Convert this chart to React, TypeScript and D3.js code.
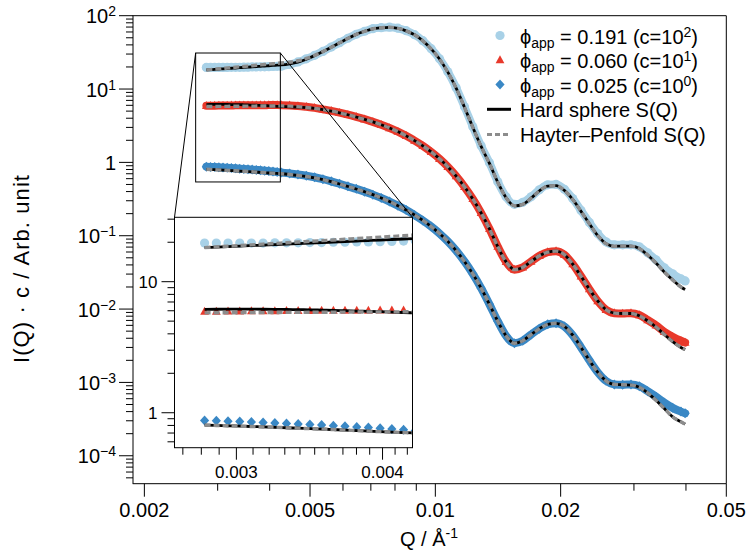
import React from "react";
import * as d3 from "d3";

// ---------------- data ----------------
const Q = [
  0.002818, 0.002884, 0.002951, 0.00302, 0.00309, 0.003162, 0.003236, 0.003311, 0.003388, 0.003467,
  0.003548, 0.003631, 0.003715, 0.003802, 0.00389, 0.003981, 0.004074, 0.004169, 0.004266,
  0.004467, 0.004677, 0.004898, 0.005129, 0.00537, 0.005623, 0.005888, 0.006166, 0.006457, 0.006761,
  0.007079, 0.007413, 0.007762, 0.008128, 0.008511, 0.008913, 0.009333, 0.009772, 0.010233, 0.010715,
  0.01122, 0.011749, 0.012303, 0.012882, 0.01349, 0.014125, 0.014791, 0.015488, 0.016218, 0.016982,
  0.017783, 0.018621, 0.019498, 0.020417, 0.02138, 0.022387, 0.023442, 0.024547, 0.025704, 0.026915,
  0.028184, 0.029512, 0.030903, 0.032359, 0.033884, 0.035481, 0.037154, 0.038905, 0.039811,
];

// measured I(Q)*c
const I_191 = [
  19.7, 19.7, 19.7, 19.7, 19.7, 19.7, 19.8, 19.8, 19.8, 19.9, 19.9, 20.0, 20.0, 20.1, 20.1, 20.2, 20.3, 20.4, 20.5,
  21.6, 23.4, 25.8, 28.8, 32.6, 37.4, 42.9, 49.3, 55.9, 61.4,
  66.5, 68.6, 69.7, 67.5, 62.4, 55.1, 45.6, 35.5, 25.9, 17.2,
  10.4, 5.73, 3.06, 1.68, 0.99, 0.544, 0.339, 0.268, 0.285, 0.339,
  0.423, 0.495, 0.5, 0.43, 0.322, 0.221, 0.152, 0.107, 0.0826, 0.0751,
  0.0751, 0.0751, 0.0706, 0.0584, 0.0469, 0.0365, 0.0302, 0.0258, 0.0242,
];
const I_060 = [
  5.92, 5.93, 5.94, 5.95, 5.96, 5.97, 5.98, 5.99, 6.0, 6.0, 6.01, 6.02, 6.02, 6.03, 6.03, 6.04, 6.04, 6.04, 6.03,
  5.98, 5.88, 5.72, 5.54, 5.29, 5.04, 4.76, 4.47, 4.17, 3.88,
  3.57, 3.26, 2.95, 2.63, 2.3, 1.98, 1.68, 1.39, 1.12, 0.87,
  0.65, 0.465, 0.318, 0.205, 0.124, 0.071, 0.044, 0.0345, 0.037, 0.0445,
  0.0532, 0.0597, 0.0616, 0.0551, 0.0411, 0.028, 0.0187, 0.0129, 0.0098, 0.0088,
  0.0087, 0.0088, 0.0083, 0.0071, 0.006, 0.0049, 0.0042, 0.0037, 0.0035,
];
const I_025 = [
  0.874, 0.868, 0.862, 0.856, 0.849, 0.843, 0.836, 0.829, 0.821, 0.813, 0.805, 0.797, 0.788, 0.779, 0.77, 0.761, 0.751, 0.74, 0.73,
  0.707, 0.683, 0.658, 0.627, 0.591, 0.551, 0.511, 0.4715, 0.4358, 0.3993,
  0.3634, 0.3276, 0.292, 0.2573, 0.2241, 0.1916, 0.1616, 0.1335, 0.1075, 0.0838,
  0.0627, 0.0446, 0.0302, 0.0193, 0.0116, 0.00683, 0.00431, 0.00342, 0.0037, 0.0045,
  0.0054, 0.0062, 0.0064, 0.0058, 0.0044, 0.003, 0.002, 0.00138, 0.00105, 0.00094,
  0.00093, 0.00094, 0.00089, 0.00076, 0.00064, 0.00053, 0.00045, 0.0004, 0.00038,
];

// model curves
const HS_191 = [
  18.2, 18.36, 18.53, 18.69, 18.86, 19.03, 19.2, 19.37, 19.54, 19.71, 19.89, 20.07, 20.25, 20.43, 20.61, 20.79, 20.98, 21.17, 21.36,
  22.1, 23.3, 25.5, 28.6, 32.4, 37.2, 42.7, 49.1, 55.7, 61.2,
  66.3, 68.4, 69.5, 67.3, 62.2, 54.9, 45.4, 35.3, 25.7, 17.0,
  10.3, 5.65, 3.01, 1.65, 0.97, 0.535, 0.33, 0.256, 0.268, 0.325,
  0.41, 0.475, 0.482, 0.415, 0.312, 0.215, 0.146, 0.101, 0.078, 0.0718,
  0.0722, 0.0722, 0.0672, 0.0545, 0.0425, 0.032, 0.025, 0.02, 0.0185,
];
const HP_191 = [
  18.2, 18.42, 18.65, 18.88, 19.11, 19.35, 19.59, 19.83, 20.07, 20.32, 20.57, 20.82, 21.08, 21.34, 21.6, 21.87, 22.14, 22.41, 22.69,
  23.2, 24.3, 26.1, 28.8, 32.4, 37.2, 42.7, 49.1, 55.7, 61.2,
  66.3, 68.4, 69.5, 67.3, 62.2, 54.9, 45.4, 35.3, 25.7, 17.0,
  10.3, 5.65, 3.01, 1.65, 0.97, 0.535, 0.33, 0.256, 0.268, 0.325,
  0.41, 0.475, 0.482, 0.415, 0.312, 0.215, 0.146, 0.101, 0.078, 0.0718,
  0.0722, 0.0722, 0.0672, 0.0545, 0.0425, 0.032, 0.025, 0.02, 0.0185,
];
const HS_060 = [
  6.15, 6.16, 6.17, 6.17, 6.17, 6.16, 6.15, 6.14, 6.12, 6.1, 6.07, 6.04, 6.01, 5.97, 5.94, 5.9, 5.86, 5.82, 5.78,
  5.74, 5.67, 5.57, 5.44, 5.24, 5.0, 4.74, 4.46, 4.16, 3.87,
  3.57, 3.26, 2.95, 2.63, 2.3, 1.98, 1.68, 1.39, 1.12, 0.87,
  0.65, 0.465, 0.318, 0.205, 0.124, 0.071, 0.044, 0.0345, 0.037, 0.0445,
  0.0532, 0.0597, 0.0616, 0.0551, 0.0411, 0.028, 0.0187, 0.0129, 0.0098, 0.0088,
  0.0087, 0.0087, 0.0081, 0.0069, 0.0057, 0.0045, 0.0036, 0.003, 0.0028,
];
const HP_060 = [
  5.78, 5.79, 5.79, 5.8, 5.81, 5.81, 5.82, 5.83, 5.83, 5.84, 5.85, 5.85, 5.86, 5.87, 5.87, 5.88, 5.88, 5.89, 5.89,
  5.84, 5.75, 5.61, 5.46, 5.25, 5.01, 4.75, 4.46, 4.16, 3.87,
  3.57, 3.26, 2.95, 2.63, 2.3, 1.98, 1.68, 1.39, 1.12, 0.87,
  0.65, 0.465, 0.318, 0.205, 0.124, 0.071, 0.044, 0.0345, 0.037, 0.0445,
  0.0532, 0.0597, 0.0616, 0.0551, 0.0411, 0.028, 0.0187, 0.0129, 0.0098, 0.0088,
  0.0087, 0.0087, 0.0081, 0.0069, 0.0057, 0.0045, 0.0036, 0.003, 0.0028,
];
const HS_025 = [
  0.805, 0.8, 0.795, 0.79, 0.785, 0.779, 0.774, 0.768, 0.762, 0.756, 0.75, 0.744, 0.737, 0.731, 0.724, 0.717, 0.712, 0.706, 0.7,
  0.684, 0.664, 0.642, 0.614, 0.581, 0.545, 0.507, 0.469, 0.434, 0.398,
  0.3634, 0.3276, 0.292, 0.2573, 0.2241, 0.1916, 0.1616, 0.1335, 0.1075, 0.0838,
  0.0627, 0.0446, 0.0302, 0.0193, 0.0116, 0.00683, 0.00431, 0.00342, 0.0037, 0.0045,
  0.0054, 0.0062, 0.0064, 0.0058, 0.0044, 0.003, 0.002, 0.00138, 0.00105, 0.00094,
  0.00093, 0.00092, 0.00086, 0.00072, 0.00057, 0.00044, 0.00034, 0.00029, 0.00027,
];
const HP_025 = [
  0.805, 0.8, 0.795, 0.79, 0.785, 0.779, 0.774, 0.768, 0.762, 0.756, 0.75, 0.744, 0.737, 0.731, 0.724, 0.717, 0.712, 0.706, 0.7,
  0.684, 0.664, 0.642, 0.614, 0.581, 0.545, 0.507, 0.469, 0.434, 0.398,
  0.3634, 0.3276, 0.292, 0.2573, 0.2241, 0.1916, 0.1616, 0.1335, 0.1075, 0.0838,
  0.0627, 0.0446, 0.0302, 0.0193, 0.0116, 0.00683, 0.00431, 0.00342, 0.0037, 0.0045,
  0.0054, 0.0062, 0.0064, 0.0058, 0.0044, 0.003, 0.002, 0.00138, 0.00105, 0.00094,
  0.00093, 0.00092, 0.00086, 0.00072, 0.00057, 0.00044, 0.00034, 0.00029, 0.00027,
];

// ticks and labels
const X_MAJOR = [0.002, 0.005, 0.01, 0.02, 0.05];
const X_MAJOR_LABELS = ["0.002", "0.005", "0.01", "0.02", "0.05"];
const X_MINOR = [0.003, 0.004, 0.006, 0.007, 0.008, 0.009, 0.03, 0.04];
const Y_MAJOR_EXP = [-4, -3, -2, -1, 0, 1, 2];
const IN_X_MAJOR = [0.003, 0.004];
const IN_X_MAJOR_LABELS = ["0.003", "0.004"];
const IN_X_MINOR = [0.0027, 0.0028, 0.0029, 0.0031, 0.0032, 0.0033, 0.0034, 0.0035, 0.0036, 0.0037, 0.0038, 0.0039, 0.0041, 0.0042];
const IN_Y_MAJOR = [1, 10];
const IN_Y_MAJOR_LABELS = ["1", "10"];
const IN_Y_MINOR = [0.6, 0.7, 0.8, 0.9, 2, 3, 4, 5, 6, 7, 8, 9, 20, 30];

const LEG_PHI = ["0.191", "0.060", "0.025"];
const LEG_EXP = ["2", "1", "0"];

// ---------------- layout ----------------
const FONT = "'Liberation Sans', Arial, Helvetica, sans-serif";
const LB = "#a8d1e7";
const RD = "#e8392b";
const BL = "#3a88c5";
const GR = "#8c8c8c";

const xMain = d3.scaleLog().domain([0.001875, 0.05]).range([132.7, 726.3]);
const yMain = d3.scaleLog().domain([4.16e-5, 100]).range([483.7, 15.7]);
const xIn = d3.scaleLog().domain([0.002656, 0.004243]).range([174.5, 412.5]);
const yIn = d3.scaleLog().domain([0.541, 31.0]).range([447.7, 217.3]);

const Y_MINOR: number[] = [];
for (let e = -5; e <= 1; e++) {
  for (let m = 2; m <= 9; m++) {
    const v = m * Math.pow(10, e);
    if (v >= 4.16e-5 && v <= 100) Y_MINOR.push(v);
  }
}

function pathOf(vals: number[], xs: any, ys: any) {
  return d3
    .line<number>()
    .x((_, i) => xs(Q[i]))
    .y((d) => ys(d))
    .curve(d3.curveMonotoneX)(vals) as string;
}

function Marker({ shape, x, y, color }: any) {
  if (shape === "circle") return <circle cx={x} cy={y} r={4.6} fill={color} />;
  if (shape === "triangle")
    return <path d={`M${x},${y - 4.8}L${x + 4.4},${y + 3.2}L${x - 4.4},${y + 3.2}Z`} fill={color} />;
  return <path d={`M${x},${y - 5}L${x + 4.6},${y}L${x},${y + 5}L${x - 4.6},${y}Z`} fill={color} />;
}

const SERIES = [
  { data: I_191, hs: HS_191, hp: HP_191, color: LB, shape: "circle" },
  { data: I_060, hs: HS_060, hp: HP_060, color: RD, shape: "triangle" },
  { data: I_025, hs: HS_025, hp: HP_025, color: BL, shape: "diamond" },
];

function Panel({ xs, ys, band }: any) {
  return (
    <g>
      {band &&
        SERIES.map((s, k) => (
          <path key={"b" + k} d={pathOf(s.data, xs, ys)} fill="none" stroke={s.color} strokeWidth={8} strokeLinecap="round" strokeLinejoin="round" />
        ))}
      {SERIES.map((s, k) => (
        <g key={"m" + k}>
          {s.data.map((v, i) => (
            <Marker key={i} shape={s.shape} x={xs(Q[i])} y={ys(v)} color={s.color} />
          ))}
        </g>
      ))}
      {SERIES.map((s, k) => (
        <path key={"hs" + k} d={pathOf(s.hs, xs, ys)} fill="none" stroke="#000" strokeWidth={2.8} />
      ))}
      {SERIES.map((s, k) => (
        <path key={"hp" + k} d={pathOf(s.hp, xs, ys)} fill="none" stroke={GR} strokeWidth={3.4} strokeDasharray="6 3" />
      ))}
    </g>
  );
}

function PowLabel({ x, y, exp }: any) {
  if (exp === 0)
    return (
      <text x={x} y={y} textAnchor="end" fontSize={20}>
        1
      </text>
    );
  const e = exp < 0 ? "\u2212" + -exp : String(exp);
  return (
    <text x={x} y={y} textAnchor="end" fontSize={20}>
      10
      <tspan fontSize={14} dy={-7}>
        {e}
      </tspan>
    </text>
  );
}

export default function App() {
  const [x0, x1] = xMain.range();
  const [yb, yt] = yMain.range();
  const ix0 = xIn.range()[0], ix1 = xIn.range()[1];
  const iyb = yIn.range()[0], iyt = yIn.range()[1];
  const rx0 = xMain(xIn.domain()[0]);
  const rx1 = xMain(xIn.domain()[1]);
  const ry0 = yMain(yIn.domain()[1]);
  const ry1 = yMain(yIn.domain()[0]);

  return (
    <svg
      width={749}
      height={558}
      style={{ position: "absolute", left: 0, top: 0, background: "#fff", fontFamily: FONT }}
      fontFamily={FONT}
    >
      <rect x={0} y={0} width={749} height={558} fill="#fff" />
      <defs>
        <clipPath id="mainClip">
          <rect x={x0} y={yt} width={x1 - x0} height={yb - yt} />
        </clipPath>
        <clipPath id="insetClip">
          <rect x={ix0} y={iyt} width={ix1 - ix0} height={iyb - iyt} />
        </clipPath>
      </defs>

      {/* main curves */}
      <g clipPath="url(#mainClip)">
        <Panel xs={xMain} ys={yMain} band={true} />
      </g>

      {/* zoom box and connectors */}
      <rect x={rx0} y={ry0} width={rx1 - rx0} height={ry1 - ry0} fill="none" stroke="#000" strokeWidth={1} />
      <line x1={rx0} y1={ry0} x2={ix0} y2={iyt} stroke="#000" strokeWidth={1} />
      <line x1={rx1} y1={ry0} x2={ix1} y2={iyt} stroke="#000" strokeWidth={1} />

      {/* inset */}
      <rect x={ix0} y={iyt} width={ix1 - ix0} height={iyb - iyt} fill="#fff" />
      <g clipPath="url(#insetClip)">
        <Panel xs={xIn} ys={yIn} band={false} />
      </g>
      <rect x={ix0} y={iyt} width={ix1 - ix0} height={iyb - iyt} fill="none" stroke="#000" strokeWidth={1} />
      {IN_Y_MAJOR.map((v, i) => (
        <g key={"iym" + i}>
          <line x1={ix0 - 13} x2={ix0} y1={yIn(v)} y2={yIn(v)} stroke="#000" strokeWidth={1} />
          <text x={ix0 - 17} y={yIn(v) + 6} textAnchor="end" fontSize={17}>
            {IN_Y_MAJOR_LABELS[i]}
          </text>
        </g>
      ))}
      {IN_Y_MINOR.map((v, i) => (
        <line key={"iyn" + i} x1={ix0 - 7} x2={ix0} y1={yIn(v)} y2={yIn(v)} stroke="#000" strokeWidth={1} />
      ))}
      {IN_X_MAJOR.map((v, i) => (
        <g key={"ixm" + i}>
          <line x1={xIn(v)} x2={xIn(v)} y1={iyb} y2={iyb + 12} stroke="#000" strokeWidth={1} />
          <text x={xIn(v)} y={478.3} textAnchor="middle" fontSize={17}>
            {IN_X_MAJOR_LABELS[i]}
          </text>
        </g>
      ))}
      {IN_X_MINOR.map((v, i) => (
        <line key={"ixn" + i} x1={xIn(v)} x2={xIn(v)} y1={iyb} y2={iyb + 7} stroke="#000" strokeWidth={1} />
      ))}

      {/* main frame */}
      <line x1={x0} x2={x1} y1={yb} y2={yb} stroke="#000" strokeWidth={1} />
      <line x1={x0} x2={x1} y1={yt} y2={yt} stroke="#000" strokeWidth={1} />
      <line x1={133} x2={133} y1={yt} y2={yb} stroke="#000" strokeWidth={1} />
      <line x1={x1} x2={x1} y1={yt} y2={yb} stroke="#000" strokeWidth={1} />

      {/* x ticks */}
      {X_MAJOR.map((v, i) => (
        <g key={"xm" + i}>
          <line x1={xMain(v)} x2={xMain(v)} y1={yb} y2={yb + 13} stroke="#000" strokeWidth={1} />
          <text x={xMain(v)} y={516.7} textAnchor="middle" fontSize={20}>
            {X_MAJOR_LABELS[i]}
          </text>
        </g>
      ))}
      {X_MINOR.map((v, i) => (
        <line key={"xn" + i} x1={xMain(v)} x2={xMain(v)} y1={yb} y2={yb + 7} stroke="#000" strokeWidth={1} />
      ))}

      {/* y ticks */}
      {Y_MAJOR_EXP.map((e) => {
        const y = yMain(Math.pow(10, e));
        return (
          <g key={"ym" + e}>
            <line x1={119} x2={133} y1={y} y2={y} stroke="#000" strokeWidth={1} />
            <PowLabel x={116} y={y + 7.5} exp={e} />
          </g>
        );
      })}
      {Y_MINOR.map((v, i) => (
        <line key={"yn" + i} x1={126} x2={133} y1={yMain(v)} y2={yMain(v)} stroke="#000" strokeWidth={1} />
      ))}

      {/* axis titles */}
      <text x={400} y={546} fontSize={20}>
        Q / Å
        <tspan fontSize={14} dy={-8}>
          -1
        </tspan>
      </text>
      <text
        transform="translate(29,269) rotate(-90)"
        textAnchor="middle"
        fontSize={22}
        textLength={188}
        lengthAdjust="spacing"
      >
        I(Q) · c / Arb. unit
      </text>

      {/* legend */}
      {SERIES.map((s, k) => {
        const by = 43.5 + 24.5 * k;
        return (
          <g key={"lg" + k}>
            <Marker shape={s.shape} x={500} y={by - 8} color={s.color} />
            <text x={520} y={by} fontSize={20}>
              {"\u03D5"}
              <tspan fontSize={14} dy={4}>
                app
              </tspan>
              <tspan dy={-4}>{` = ${LEG_PHI[k]} (c=10`}</tspan>
              <tspan fontSize={14} dy={-7}>
                {LEG_EXP[k]}
              </tspan>
              <tspan dy={7}>)</tspan>
            </text>
          </g>
        );
      })}
      <line x1={487} x2={511} y1={109.3} y2={109.3} stroke="#000" strokeWidth={3} />
      <text x={520} y={117} fontSize={20}>
        Hard sphere S(Q)
      </text>
      <line x1={487} x2={511} y1={134.5} y2={134.5} stroke={GR} strokeWidth={3.2} strokeDasharray="5 3" />
      <text x={520} y={141.5} fontSize={20}>
        Hayter–Penfold S(Q)
      </text>
    </svg>
  );
}
